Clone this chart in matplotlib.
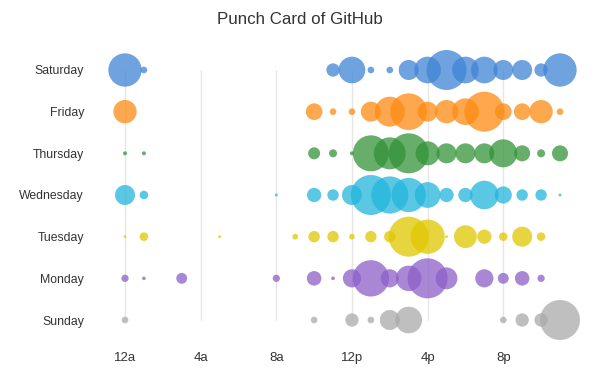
import matplotlib
matplotlib.use("Agg")
import matplotlib.pyplot as plt
import numpy as np

plt.rcParams['font.family'] = ['Liberation Sans', 'DejaVu Sans']

hours = ['12a', '1a', '2a', '3a', '4a', '5a', '6a', '7a', '8a', '9a', '10a', '11a',
         '12p', '1p', '2p', '3p', '4p', '5p', '6p', '7p', '8p', '9p', '10p', '11p']
days = ['Saturday', 'Friday', 'Thursday', 'Wednesday', 'Tuesday', 'Monday', 'Sunday']

# commits per hour, one list per day (12a .. 11p)
saturday = [5, 1, 0, 0, 0, 0, 0, 0, 0, 0, 0, 2, 4, 1, 1, 3, 4, 6, 4, 4, 3, 3, 2, 5]
friday = [7, 0, 0, 0, 0, 0, 0, 0, 0, 0, 5, 2, 2, 6, 9, 11, 6, 7, 8, 12, 5, 5, 7, 2]
thursday = [1, 1, 0, 0, 0, 0, 0, 0, 0, 0, 3, 2, 1, 9, 8, 10, 6, 5, 5, 5, 7, 4, 2, 4]
wednesday = [7, 3, 0, 0, 0, 0, 0, 0, 1, 0, 5, 4, 7, 14, 13, 12, 9, 5, 5, 10, 6, 4, 4, 1]
tuesday = [1, 3, 0, 0, 0, 1, 0, 0, 0, 2, 4, 4, 2, 4, 4, 14, 12, 1, 8, 5, 3, 7, 3, 0]
monday = [2, 1, 0, 3, 0, 0, 0, 0, 2, 0, 4, 1, 5, 10, 5, 7, 11, 6, 0, 5, 3, 4, 2, 0]
sunday = [1, 0, 0, 0, 0, 0, 0, 0, 0, 0, 1, 0, 2, 1, 3, 4, 0, 0, 0, 0, 1, 2, 2, 6]

colors = ['#3f84d6', '#fd8b13', '#339338', '#23b6db', '#e0c700', '#8c5fc8', '#aaaaaa']

rows = [saturday, friday, thursday, wednesday, tuesday, monday, sunday]

px = 1 / 100
fig = plt.figure(figsize=(600 * px, 375 * px), dpi=100)
ax = fig.add_axes([100 / 600, 30 / 375, 485 / 600, 305 / 375])

step = 485 / (23 + 50 / 18.913)
ax.set_xlim(-25 / step, 23 + 25 / step)
ax.set_ylim(6 + 25 / 41.67, -30 / 41.67)

# faint vertical guides every 4 hours
grid_x = np.arange(0, 24, 4)
ax.vlines(grid_x, 0, 6, color='#e6e6e6', lw=1, zorder=0)

max_d = 40  # px, largest bubble in each row
for i, (vals, col) in enumerate(zip(rows, colors)):
    vals = np.array(vals, dtype=float)
    x = np.arange(24)
    mask = vals > 0
    d = vals[mask] / vals.max() * max_d * 0.72  # to points
    ax.scatter(x[mask], np.full(mask.sum(), i), s=d ** 2, color=col,
               alpha=0.75, linewidths=0, zorder=2)

ax.set_xticks(grid_x, [hours[h] for h in grid_x])
ax.set_yticks(range(len(days)), days)
ax.tick_params(axis='x', length=0, pad=5, labelsize=9.5, colors='#333333')
ax.tick_params(axis='y', length=0, pad=11.5, labelsize=8.8, colors='#333333')
for s in ax.spines.values():
    s.set_visible(False)

fig.text(0.5, 1 - 20 / 375, 'Punch Card of GitHub', ha='center', va='center',
         fontsize=12.2, color='#333333')

fig.savefig('out.png', dpi=100)
